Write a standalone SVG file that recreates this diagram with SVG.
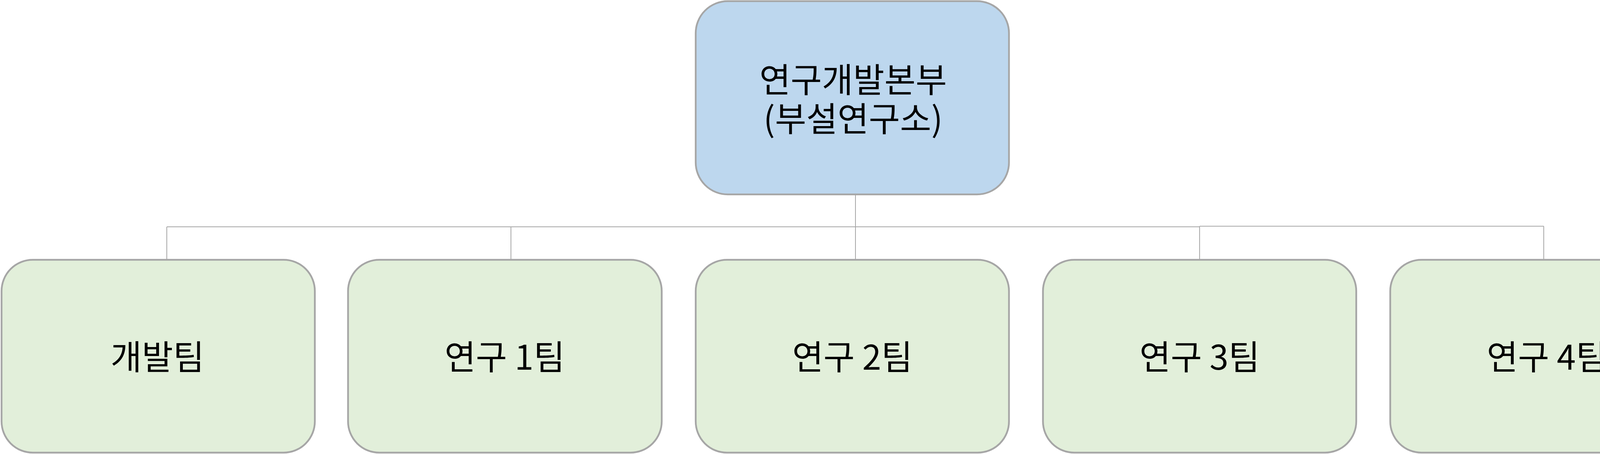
<svg xmlns="http://www.w3.org/2000/svg" width="4364" height="1163" viewBox="0 0 4364 1163">
<style>
.box{stroke:#a6a6a6;stroke-width:4.5}
.top{fill:#bdd7ee}
.child{fill:#e2efda}
.lbl{font-family:"Noto Sans CJK KR","Liberation Sans",sans-serif;font-size:87px;fill:#000;text-anchor:middle}
.conn{stroke:#a6a6a6;stroke-width:2;fill:none}
</style>
<rect width="4364" height="1163" fill="#ffffff"/>
<g id="connectors">
<line class="conn" x1="2190" y1="498" x2="2190" y2="665"/>
<line class="conn" x1="427" y1="581" x2="3071" y2="581"/>
<line class="conn" x1="3071" y1="579.5" x2="3952" y2="579.5"/>
<line class="conn" x1="427" y1="581" x2="427" y2="665"/>
<line class="conn" x1="1308" y1="581" x2="1308" y2="665"/>
<line class="conn" x1="3071" y1="579.5" x2="3071" y2="665"/>
<line class="conn" x1="3952" y1="579.5" x2="3952" y2="665"/>
</g>
<g id="node-root">
<rect class="box top" x="1781" y="3" width="802" height="495" rx="82" ry="82"/>
<text class="lbl" x="2184" y="237">연구개발본부</text>
<text class="lbl" x="2184" y="337">(부설연구소)</text>
</g>
<g id="node-dev">
<rect class="box child" x="4" y="665.5" width="802" height="494" rx="80" ry="80"/>
<text class="lbl" x="403" y="947">개발팀</text>
</g>
<g id="node-r1">
<rect class="box child" x="891" y="665.5" width="803" height="494" rx="80" ry="80"/>
<text class="lbl" x="1292" y="947">연구 1팀</text>
</g>
<g id="node-r2">
<rect class="box child" x="1781" y="665.5" width="802" height="494" rx="80" ry="80"/>
<text class="lbl" x="2182" y="947">연구 2팀</text>
</g>
<g id="node-r3">
<rect class="box child" x="2670" y="665.5" width="802" height="494" rx="80" ry="80"/>
<text class="lbl" x="3071" y="947">연구 3팀</text>
</g>
<g id="node-r4">
<rect class="box child" x="3559" y="665.5" width="802" height="494" rx="80" ry="80"/>
<text class="lbl" x="3960" y="947">연구 4팀</text>
</g>
</svg>
